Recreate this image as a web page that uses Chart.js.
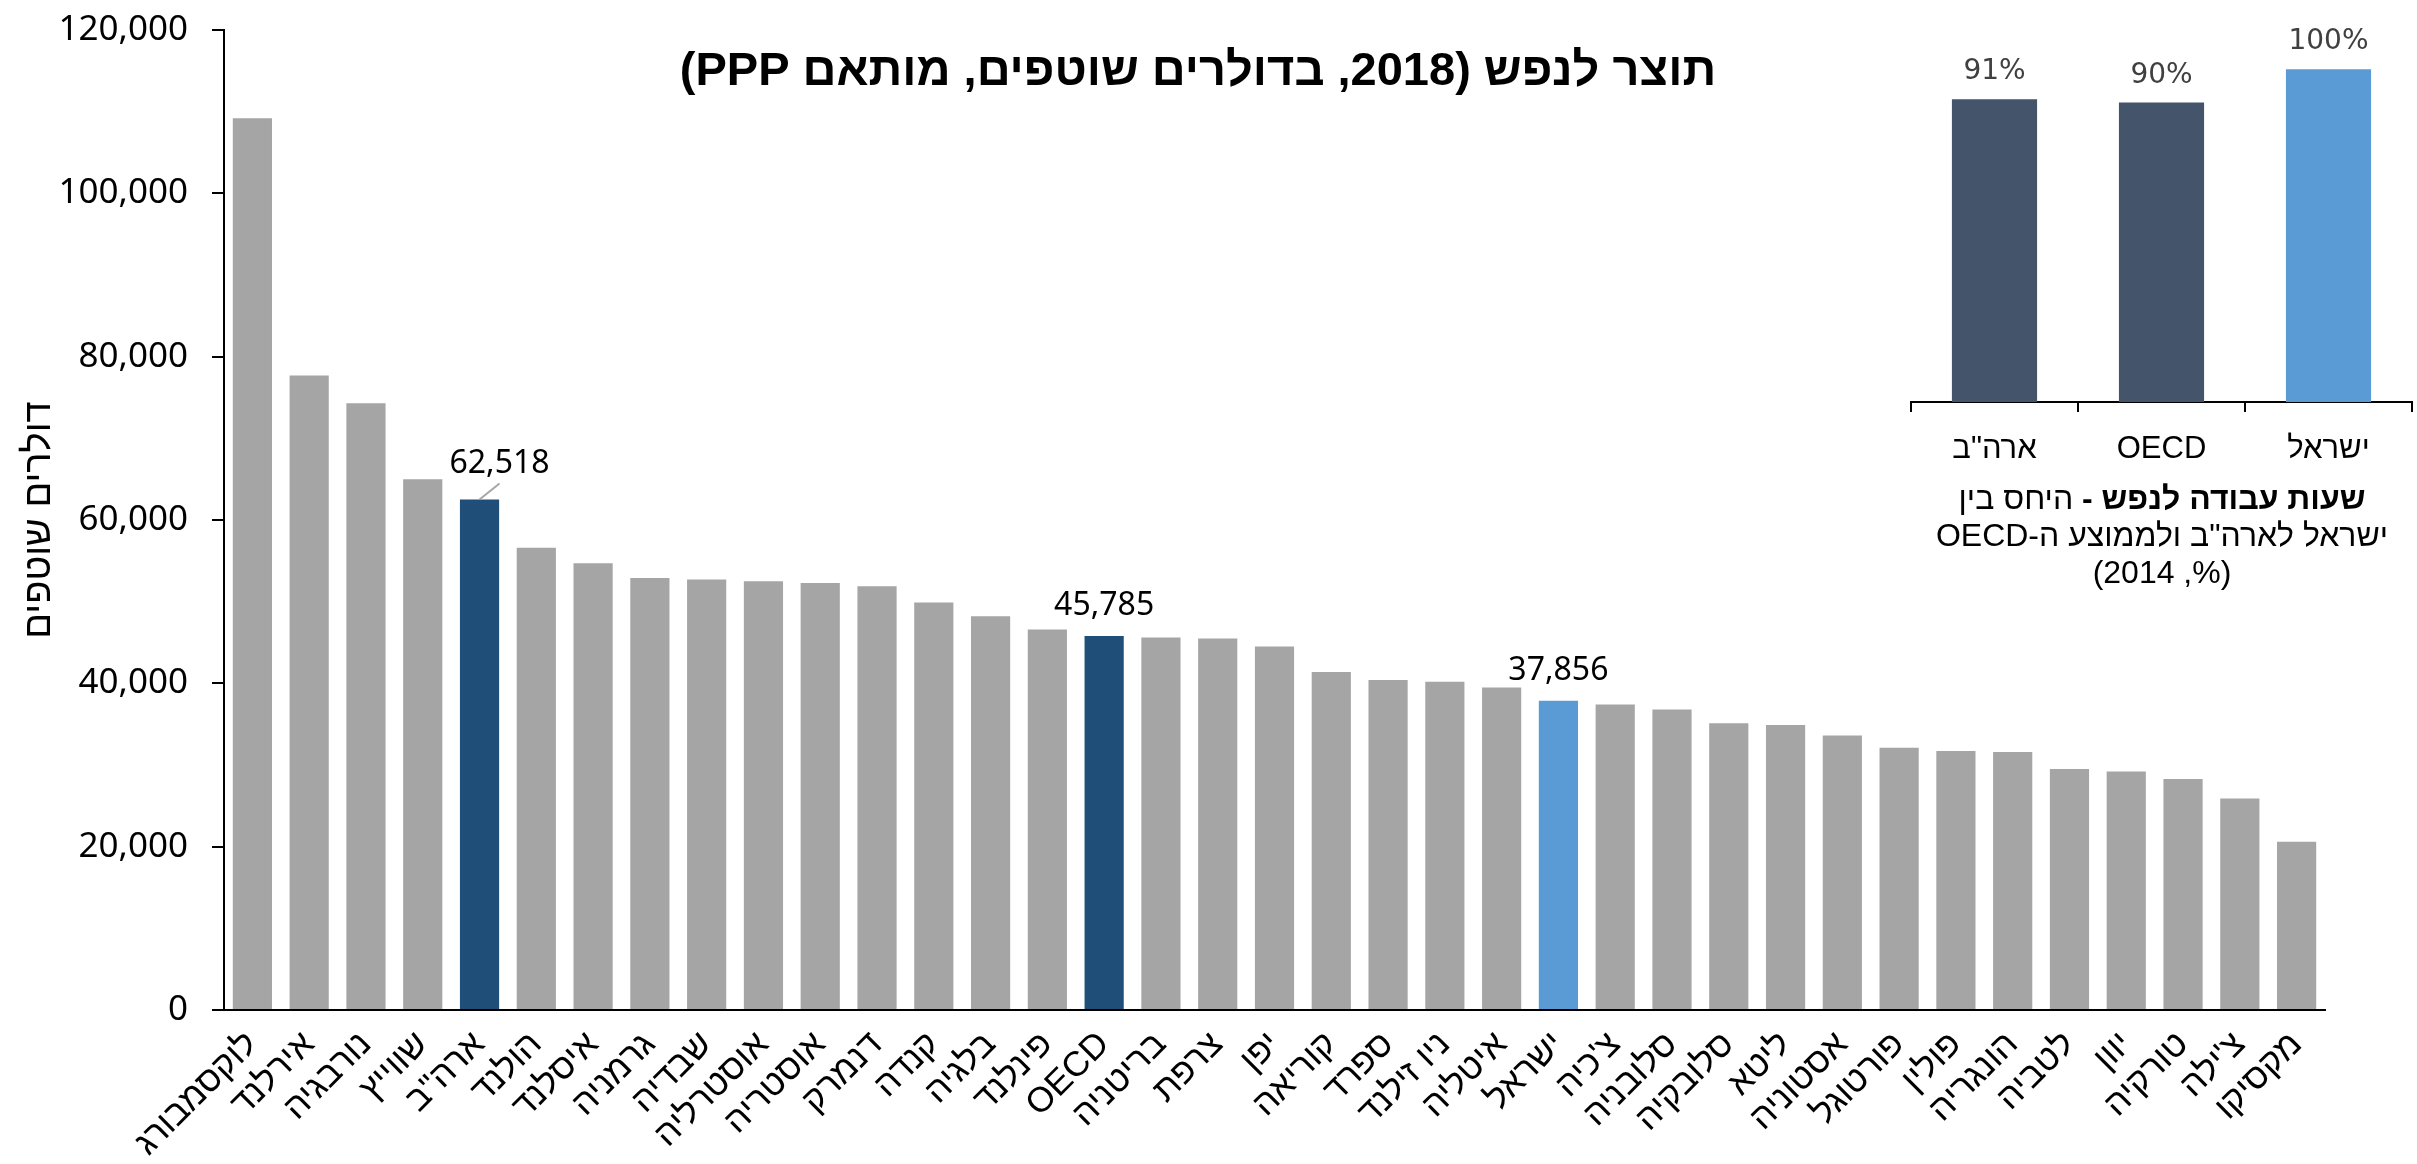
<!DOCTYPE html>
<html lang="he">
<head>
    <meta charset="UTF-8">
    <title>תוצר לנפש</title>
    <script src="https://cdn.jsdelivr.net/npm/chart.js"></script>
    <style>
        * {
            margin: 0;
            padding: 0;
            box-sizing: border-box;
        }
        body {
            background: #fff;
            width: 2417px;
            height: 1164px;
            overflow: hidden;
            position: relative;
            font-family: 'Liberation Sans', Arial, sans-serif;
        }
        .main-wrap {
            position: absolute;
            left: 0;
            top: 0;
            width: 2417px;
            height: 1164px;
        }
        .inset-wrap {
            position: absolute;
            left: 1880px;
            top: 0;
            width: 537px;
            height: 480px;
        }
        .title {
            position: absolute;
            left: 0;
            top: 41px;
            width: 2396px;
            text-align: center;
            font-weight: bold;
            font-size: 47px;
            line-height: 56px;
            color: #000;
        }
        .caption {
            position: absolute;
            left: 1917px;
            top: 480px;
            width: 490px;
            text-align: center;
            font-size: 32px;
            line-height: 37px;
            color: #000;
        }
    </style>
</head>
<body>
    <div class="main-wrap"><canvas id="mainChart"></canvas></div>
    <div class="inset-wrap"><canvas id="insetChart"></canvas></div>
    <div class="title" dir="rtl">תוצר לנפש (2018, בדולרים שוטפים, מותאם PPP)</div>
    <div class="caption" dir="rtl"><b>שעות עבודה לנפש -</b> היחס בין<br>ישראל לארה"ב ולממוצע ה-OECD<br>(%, 2014)</div>

    <script>
        // GDP per capita 2018, current PPP dollars
        const countries = ['לוקסמבורג', 'אירלנד', 'נורבגיה', 'שווייץ', 'ארה"ב', 'הולנד', 'איסלנד', 'גרמניה',
            'שבדיה', 'אוסטרליה', 'אוסטריה', 'דנמרק', 'קנדה', 'בלגיה', 'פינלנד', 'OECD', 'בריטניה', 'צרפת',
            'יפן', 'קוריאה', 'ספרד', 'ניו זילנד', 'איטליה', 'ישראל', "צ'כיה", 'סלובניה', 'סלובקיה', 'ליטא',
            'אסטוניה', 'פורטוגל', 'פולין', 'הונגריה', 'לטביה', 'יוון', 'טורקיה', "צ'ילה", 'מקסיקו'];
        const gdpPerCapita = [109200, 77700, 74300, 65000, 62518, 56600, 54700, 52900,
            52700, 52500, 52300, 51900, 49900, 48200, 46600, 45785, 45600, 45500,
            44500, 41400, 40400, 40200, 39500, 37856, 37400, 36800, 35100, 34900,
            33600, 32100, 31700, 31600, 29500, 29200, 28300, 25900, 20600];
        const labeledCountries = ['ארה"ב', 'OECD', 'ישראל'];
        const yTicks = [0, 20000, 40000, 60000, 80000, 100000, 120000];

        // hours worked per capita, Israel relative to US / OECD (2014)
        const hoursLabels = ['ארה"ב', 'OECD', 'ישראל'];
        const hoursRatio = [91, 90, 100];

        const GRAY = '#A5A5A5';
        const DARK = '#1F4E79';
        const LIGHT = '#5B9BD5';

        function barColor(name) {
            if (name === 'ישראל') return LIGHT;
            if (name === 'ארה"ב' || name === 'OECD') return DARK;
            return GRAY;
        }

        // draws the value above chosen bars
        const barLabels = {
            id: 'barLabels',
            afterDatasetsDraw(chart, args, opts) {
                const ctx = chart.ctx;
                const meta = chart.getDatasetMeta(0);
                const data = chart.data.datasets[0].data;
                ctx.save();
                ctx.font = opts.font;
                ctx.fillStyle = opts.color;
                ctx.textAlign = 'center';
                ctx.textBaseline = 'alphabetic';
                opts.items.forEach(item => {
                    const bar = meta.data[item.index];
                    const tx = bar.x + (item.dx || 0);
                    const ty = bar.y - (item.gap || opts.gap);
                    if (item.leader) {
                        ctx.strokeStyle = '#A6A6A6';
                        ctx.lineWidth = 2;
                        ctx.beginPath();
                        ctx.moveTo(bar.x, bar.y);
                        ctx.lineTo(tx, bar.y - 16);
                        ctx.stroke();
                    }
                    ctx.fillText(opts.format(data[item.index]), tx, ty);
                });
                ctx.restore();
            }
        };

        new Chart(document.getElementById('mainChart'), {
            type: 'bar',
            data: {
                labels: countries,
                datasets: [{
                    data: gdpPerCapita,
                    backgroundColor: countries.map(barColor),
                    barPercentage: 0.69,
                    categoryPercentage: 1
                }]
            },
            options: {
                responsive: true,
                maintainAspectRatio: false,
                animation: false,
                layout: { padding: { left: 0, right: 92, top: 30, bottom: 0 } },
                plugins: {
                    legend: { display: false },
                    tooltip: { enabled: false },
                    barLabels: {
                        font: '32px "Noto Sans", sans-serif',
                        color: '#000',
                        gap: 21,
                        format: v => v.toLocaleString('en-US'),
                        items: labeledCountries.map(n => {
                            const i = countries.indexOf(n);
                            return n === 'ארה"ב' ? { index: i, dx: 20, gap: 26, leader: true } : { index: i };
                        })
                    }
                },
                scales: {
                    x: {
                        grid: { display: false },
                        border: { display: true, color: '#000', width: 2 },
                        ticks: {
                            autoSkip: false,
                            maxRotation: 45,
                            minRotation: 45,
                            padding: 6,
                            color: '#000',
                            font: { family: '"Liberation Sans", Arial, sans-serif', size: 35 }
                        },
                        afterFit(scale) { scale.height = 154; }
                    },
                    y: {
                        min: 0,
                        max: 120000,
                        afterBuildTicks(scale) { scale.ticks = yTicks.map(v => ({ value: v })); },
                        grid: { drawOnChartArea: false, drawTicks: true, tickLength: 12, color: '#000', lineWidth: 2 },
                        border: { display: true, color: '#000', width: 2 },
                        ticks: {
                            padding: 24,
                            color: '#000',
                            font: { family: '"Noto Sans", sans-serif', size: 35 },
                            callback: v => v.toLocaleString('en-US')
                        },
                        title: {
                            display: true,
                            text: 'דולרים שוטפים',
                            color: '#000',
                            padding: { top: 17, bottom: 0 },
                            font: { family: '"Liberation Sans", Arial, sans-serif', size: 38 }
                        },
                        afterFit(scale) {
                            scale.width = 224;
                            scale.paddingTop = 0;
                            scale.paddingBottom = 0;
                        }
                    }
                }
            },
            plugins: [barLabels]
        });

        new Chart(document.getElementById('insetChart'), {
            type: 'bar',
            data: {
                labels: hoursLabels,
                datasets: [{
                    data: hoursRatio,
                    backgroundColor: ['#44546A', '#44546A', LIGHT],
                    barPercentage: 0.51,
                    categoryPercentage: 1
                }]
            },
            options: {
                responsive: true,
                maintainAspectRatio: false,
                animation: false,
                layout: { padding: { left: 31, right: 5, top: 36, bottom: 0 } },
                plugins: {
                    legend: { display: false },
                    tooltip: { enabled: false },
                    barLabels: {
                        font: '28px "DejaVu Sans", Verdana, sans-serif',
                        color: '#404040',
                        gap: 20,
                        format: v => v + '%',
                        items: hoursRatio.map((v, i) => ({ index: i }))
                    }
                },
                scales: {
                    x: {
                        grid: { display: true, drawOnChartArea: false, drawTicks: true, tickLength: 10, color: '#000', lineWidth: 2 },
                        border: { display: true, color: '#000', width: 2 },
                        ticks: {
                            padding: 19,
                            color: '#000',
                            font: { family: '"Liberation Sans", Arial, sans-serif', size: 31 }
                        },
                        afterFit(scale) { scale.height = 78; }
                    },
                    y: {
                        display: false,
                        min: 0,
                        max: 110
                    }
                }
            },
            plugins: [barLabels]
        });
    </script>
</body>
</html>
